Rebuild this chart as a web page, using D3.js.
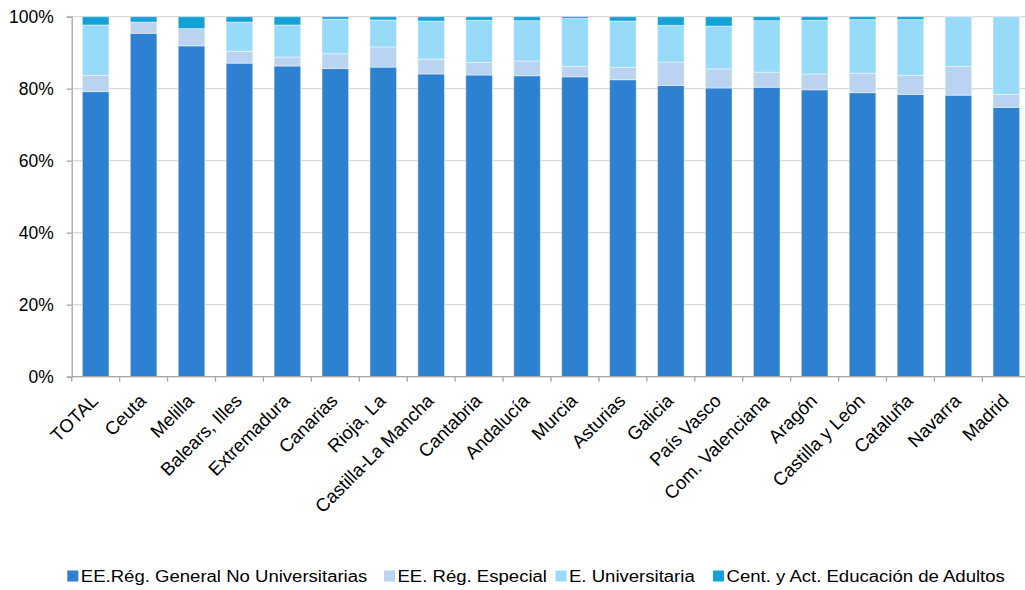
<!DOCTYPE html>
<html>
<head>
<meta charset="utf-8">
<script src="https://cdn.jsdelivr.net/npm/d3@7"></script>
<style>
  body { margin: 0; background: #fff; }
  svg { font-family: "Liberation Sans", Arial, sans-serif; }
</style>
</head>
<body>
<div id="chart"></div>
<script>
// Data (percent of total)
var regions = ["TOTAL", "Ceuta", "Melilla", "Balears, Illes", "Extremadura", "Canarias", "Rioja, La",
  "Castilla-La Mancha", "Cantabria", "Andalucía", "Murcia", "Asturias", "Galicia", "País Vasco",
  "Com. Valenciana", "Aragón", "Castilla y León", "Cataluña", "Navarra", "Madrid"];

var seriesNames = ["EE.Rég. General No Universitarias", "EE. Rég. Especial", "E. Universitaria",
  "Cent. y Act. Educación de Adultos"];

var generalNoUniv = [79.2, 95.4, 91.9, 87.1, 86.3, 85.6, 86.0, 84.1, 83.8, 83.6, 83.3, 82.5, 80.9, 80.2, 80.4, 79.7, 78.9, 78.4, 78.2, 74.8];
var regEspecial   = [4.5, 3.1, 4.8, 3.3, 2.5, 4.1, 5.6, 4.1, 3.5, 4.1, 2.9, 3.4, 6.5, 5.3, 4.2, 4.4, 5.4, 5.3, 8.0, 3.6];
var universitaria = [14.0, 0.0, 0.0, 8.1, 8.9, 9.6, 7.5, 10.6, 11.7, 11.2, 13.3, 12.9, 10.2, 11.9, 14.3, 14.9, 14.9, 15.5, 13.8, 21.6];
var adultos       = [2.3, 1.5, 3.3, 1.5, 2.3, 0.7, 0.9, 1.2, 1.0, 1.1, 0.5, 1.2, 2.4, 2.6, 1.1, 1.0, 0.8, 0.8, 0.0, 0.0];

var yTicks = [0, 20, 40, 60, 80, 100];
var colors = ["#2e81d1", "#b9d3f0", "#97dbf8", "#13a1d8"];

var svgWidth = 1025;
var svgHeight = 590;

var table = regions.map(function(r, i) {
  var row = { region: r };
  row[seriesNames[0]] = generalNoUniv[i];
  row[seriesNames[1]] = regEspecial[i];
  row[seriesNames[2]] = universitaria[i];
  row[seriesNames[3]] = adultos[i];
  return row;
});

var svg = d3.select("#chart")
  .append("svg")
  .attr("width", svgWidth)
  .attr("height", svgHeight);

// scales (the plot runs a bit past the right edge, like the original)
var x = d3.scaleBand()
  .domain(regions)
  .range([71.7, 1030.3])
  .paddingInner(0.445)
  .paddingOuter(0.2225);

var y = d3.scaleLinear()
  .domain([0, 100])
  .range([376.7, 16.7]);

// gridlines
svg.append("g")
  .selectAll("line")
  .data(yTicks)
  .enter()
  .append("line")
  .attr("x1", 71.7)
  .attr("x2", 1030.3)
  .attr("y1", d => y(d))
  .attr("y2", d => y(d))
  .attr("stroke", "#d9d9d9")
  .attr("stroke-width", 1.3);

// stacked bars
var stack = d3.stack().keys(seriesNames);
var layers = stack(table);

svg.append("g")
  .selectAll("g")
  .data(layers)
  .enter()
  .append("g")
  .attr("fill", (d, i) => colors[i])
  .selectAll("rect")
  .data(d => d)
  .enter()
  .append("rect")
  .attr("x", d => x(d.data.region))
  .attr("width", x.bandwidth())
  .attr("y", d => y(d[1]))
  .attr("height", d => Math.max(0, y(d[0]) - y(d[1])))
  .attr("stroke", "#ffffff")
  .attr("stroke-opacity", 0.45)
  .attr("stroke-width", 1);

// y axis
var leftAxis = d3.axisLeft(y)
  .tickValues(yTicks)
  .tickFormat(d => d + "%")
  .tickSize(5)
  .tickPadding(13);

var yAxis = svg.append("g")
  .attr("transform", "translate(71.7,0)")
  .call(leftAxis);
yAxis.select(".domain").attr("stroke", "#a6a6a6").attr("stroke-width", 1.3);
yAxis.selectAll(".tick line").attr("stroke", "#a6a6a6").attr("stroke-width", 1.3);
yAxis.selectAll("text")
  .attr("fill", "#000")
  .style("font-size", "17.5px")
  .style("font-family", "'Liberation Sans', Arial, sans-serif");

// x axis: ticks at category boundaries
var step = x.step();
var boundaries = d3.range(regions.length + 1).map(i => 71.7 + i * step);

var xAxis = svg.append("g");
xAxis.append("line")
  .attr("x1", 71.7)
  .attr("x2", 1030.3)
  .attr("y1", y(0))
  .attr("y2", y(0))
  .attr("stroke", "#a6a6a6")
  .attr("stroke-width", 1.3);

xAxis.selectAll(".tk")
  .data(boundaries)
  .enter()
  .append("line")
  .attr("class", "tk")
  .attr("x1", d => d)
  .attr("x2", d => d)
  .attr("y1", y(0))
  .attr("y2", y(0) + 5)
  .attr("stroke", "#a6a6a6")
  .attr("stroke-width", 1.3);

xAxis.selectAll("text")
  .data(regions)
  .enter()
  .append("text")
  .attr("transform", d => "translate(" + (x(d) + x.bandwidth() / 2 + 3.6) + "," + 402 + ") rotate(-45)")
  .attr("text-anchor", "end")
  .style("font-size", "18.5px")
  .attr("fill", "#000")
  .text(d => d);

// legend
var legendX = [67.3, 384, 555.5, 713];
var legend = svg.append("g")
  .selectAll("g")
  .data(seriesNames)
  .enter()
  .append("g")
  .attr("transform", (d, i) => "translate(" + legendX[i] + ",570.5)");

legend.append("rect")
  .attr("width", 11)
  .attr("height", 11)
  .attr("fill", (d, i) => colors[i]);

legend.append("text")
  .attr("transform", "translate(13.5,11.3) scale(1.16,1)")
  .style("font-size", "16px")
  .attr("fill", "#000")
  .text(d => d);
</script>
</body>
</html>
